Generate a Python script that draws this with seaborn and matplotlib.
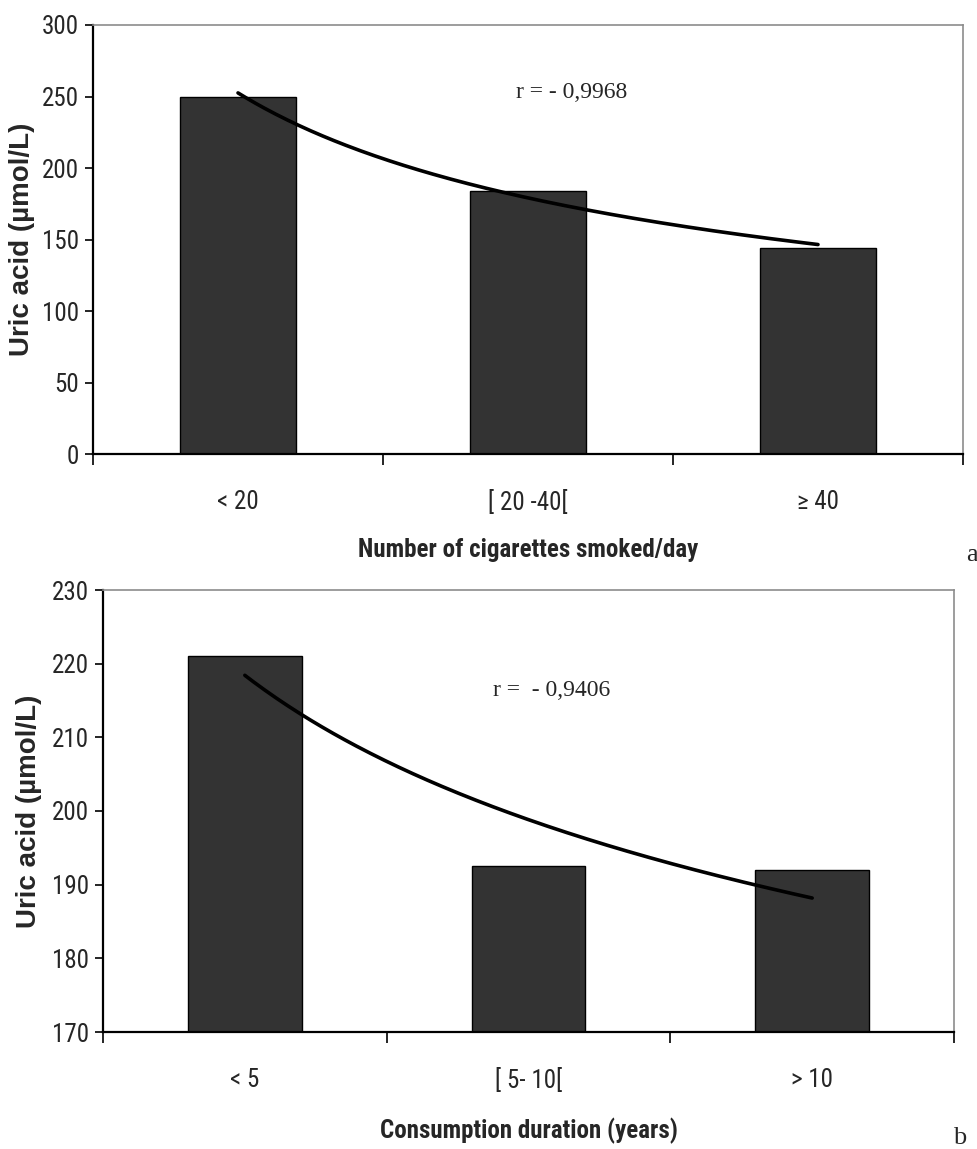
import numpy as np
import pandas as pd
import matplotlib
matplotlib.use("Agg")
import matplotlib.pyplot as plt
import seaborn as sns
from matplotlib import font_manager
from matplotlib.ticker import FixedLocator, MultipleLocator

# Uric acid by smoking intensity (panel a)
cig_categories = ["< 20", "[ 20 -40[", "\u2265 40"]
cig_uric_acid = [250.0, 184.0, 144.0]
cig_r_label = "r = - 0,9968"

# Uric acid by smoking duration (panel b)
dur_categories = ["< 5", "[ 5- 10[", "> 10"]
dur_uric_acid = [221.0, 192.6, 192.0]
dur_r_label = "r =  - 0,9406"

sns.set_style("white")


def pick_narrow_font():
    """Return (family, stretch) for a condensed sans face if one is installed."""
    entries = font_manager.fontManager.ttflist
    names = {f.name for f in entries}
    for fam in ["Liberation Sans Narrow", "Arial Narrow", "Roboto Condensed",
                "Open Sans Condensed", "Noto Sans Condensed", "DejaVu Sans Condensed"]:
        if fam in names:
            return fam, "normal"
    for f in entries:
        st = str(f.stretch)
        if f.name in ("DejaVu Sans", "Noto Sans", "Open Sans", "Roboto") and \
                st not in ("normal", "400", "500"):
            return f.name, "condensed"
    return None, "normal"


narrow_family, narrow_stretch = pick_narrow_font()
if narrow_family:
    SANS = [narrow_family, "DejaVu Sans"]
    TICK_SIZE, XLABEL_SIZE = 18, 18
else:
    SANS = ["Liberation Sans", "DejaVu Sans"]
    TICK_SIZE, XLABEL_SIZE = 17, 16
    narrow_stretch = "normal"

plt.rcParams["font.family"] = SANS
plt.rcParams["font.stretch"] = narrow_stretch
SERIF = ["Liberation Serif", "DejaVu Serif"]

BAR = "#333333"
GRAY = "#8c8c8c"

fig = plt.figure(figsize=(9.78, 11.49), dpi=100)
W, H = 978, 1149


def add_axes_px(left, top, right, bottom):
    return fig.add_axes([left / W, 1 - bottom / H, (right - left) / W, (bottom - top) / H])


def power_trend(values):
    # least-squares power-law trend through the category means
    x = np.arange(1, len(values) + 1, dtype=float)
    b, ln_a = np.polyfit(np.log(x), np.log(values), 1)
    xs = np.linspace(1, len(values), 200)
    return xs - 1, np.exp(ln_a) * xs ** b


def draw_panel(ax, cats, vals, ylim, ystep, xlabel, r_label, r_pos, ylab_x):
    df = pd.DataFrame({"group": cats, "uric": vals})
    sns.barplot(data=df, x="group", y="uric", order=cats, color=BAR, saturation=1,
                width=0.4, edgecolor="black", linewidth=1.0, ax=ax)
    tx, ty = power_trend(vals)
    sns.lineplot(x=tx, y=ty, color="black", linewidth=2.6, ax=ax, sort=False)

    ax.set_xlim(-0.5, len(cats) - 0.5)
    ax.set_ylim(*ylim)
    ax.yaxis.set_major_locator(MultipleLocator(ystep))

    for side in ("top", "right"):
        ax.spines[side].set_visible(True)
        ax.spines[side].set_color(GRAY)
        ax.spines[side].set_linewidth(1.2)
    for side in ("left", "bottom"):
        ax.spines[side].set_color("black")
        ax.spines[side].set_linewidth(1.6)

    ax.tick_params(axis="y", which="major", direction="out", length=6, width=1.2,
                   color="black", labelsize=TICK_SIZE, pad=4, left=True)
    ax.xaxis.set_minor_locator(FixedLocator(np.arange(-0.5, len(cats), 1.0)))
    ax.tick_params(axis="x", which="minor", direction="out", length=8, width=1.2,
                   color="black", bottom=True)
    ax.tick_params(axis="x", which="major", length=0, labelsize=TICK_SIZE, pad=26)

    ax.set_xlabel(xlabel, fontsize=XLABEL_SIZE, fontweight="bold")
    ax.xaxis.set_label_coords(0.5, -0.224)
    ax.xaxis.label.set_va("center")
    ax.set_ylabel("Uric acid (\u00b5mol/L)", fontsize=20, fontweight="bold",
                  family=["Liberation Sans", "DejaVu Sans"], fontstretch="normal")
    ax.yaxis.set_label_coords(ylab_x, 0.5)
    ax.yaxis.label.set_va("center")

    ax.text(r_pos[0], r_pos[1], r_label, transform=ax.transAxes, ha="center", va="center",
            fontsize=17, family=SERIF)


ax_a = add_axes_px(93, 25, 963, 454)
draw_panel(ax_a, cig_categories, cig_uric_acid, (0, 300), 50,
           "Number of cigarettes smoked/day", cig_r_label, (0.5506, 0.8415), -0.0816)

ax_b = add_axes_px(103, 590, 954, 1032)
draw_panel(ax_b, dur_categories, dur_uric_acid, (170, 230), 10,
           "Consumption duration (years)", dur_r_label, (0.5276, 0.7715), -0.087)

fig.text(972 / W, 1 - 555 / H, "a", ha="center", va="center", fontsize=19, family=SERIF)
fig.text(960 / W, 1 - 1138 / H, "b", ha="center", va="center", fontsize=19, family=SERIF)

fig.savefig("out.png", dpi=100, facecolor="white")
